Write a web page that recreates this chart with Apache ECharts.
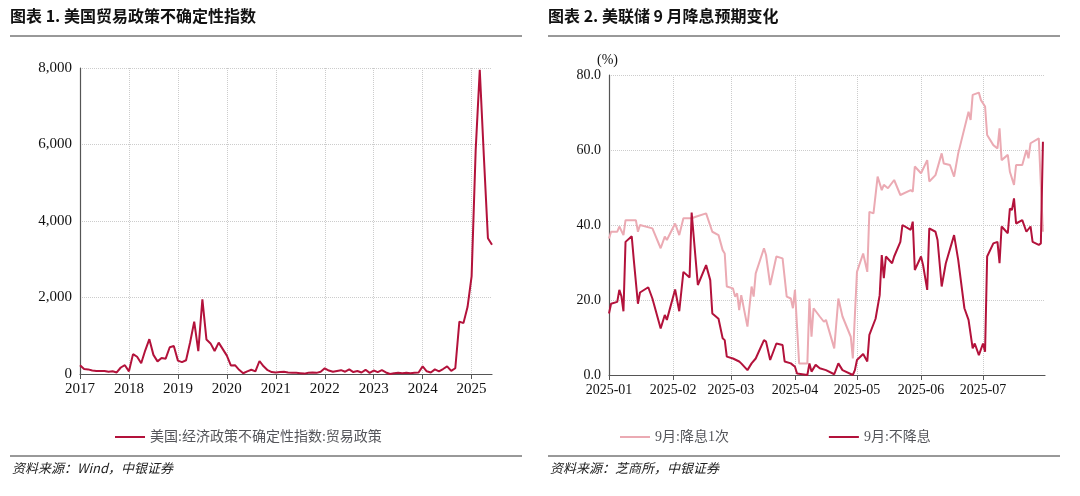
<!DOCTYPE html>
<html><head><meta charset="utf-8">
<script src="https://cdn.jsdelivr.net/npm/echarts@6/dist/echarts.min.js"></script>
<style>html,body{margin:0;background:#fff}#c{width:1080px;height:496px}</style>
</head><body><div id="c"></div>
<script>
/* 左图：贸易政策不确定性指数（月度，2017-01 ~ 2025-06） */
var tpuValues = [
  230,130,120,90,80,80,80,60,70,40,170,230,
  70,520,450,280,620,910,500,330,420,400,700,730,
  350,310,360,830,1370,600,1950,900,800,600,820,650,
  480,220,230,110,20,70,110,70,340,200,100,50,
  40,50,60,40,30,30,20,10,30,40,30,60,
  150,90,60,80,100,60,120,50,80,40,110,30,
  90,50,100,40,0,20,30,20,30,20,30,40,
  200,70,40,120,70,130,200,80,150,1370,1330,1750,
  2550,5860,7950,5700,3550,3380
]
var yearTicks = [0, 2000, 4000, 6000, 8000]

/* 右图：9月降息预期（日度，按2025-01-01起的天数） */
var cutDays = [0,1,4,5,7,8,13,14,15,21,25,27,28,32,34,36,40,42,47,50,53,55,56,57,60,61,62,63,64,67,69,70,71,75,76,78,81,84,86,88,89,90,92,96,97,98,99,102,104,105,109,111,113,117,118,120,123,125,126,128,130,132,133,135,138,141,146,147,148,151,154,155,158,161,162,165,167,169,174,175,176,179,180,182,183,186,188,189,190,193,194,196,197,200,202,203,204,208,210]
var cutVals = [36.4,38.2,38.2,39.6,37.3,41.3,41.3,38.2,40,39.1,33.8,36.9,36,40.4,37.3,41.8,41.8,42.2,43.1,38.2,37.3,33.3,32.4,23.6,23.1,20.9,21.8,17.3,21.3,12.9,23.6,20.9,27.1,33.8,32,24,31.6,31.1,20.9,20.4,17.8,22.7,3.1,3.1,20.4,10.2,17.8,15.6,14.2,14.7,7.1,20.4,15.6,10.2,4.4,27.5,32.4,27.5,43.5,43.1,52.9,49.3,50.7,49.8,52,48,49.3,48.9,55.6,53.8,57.3,51.6,53.3,59.1,56.4,56,52.9,59.1,70.2,68,74.7,75.3,73.3,71.6,64,61.3,60.4,65.8,57.3,58.7,54.2,50.7,56,56,60,57.8,61.8,63.1,38.2]
var holdDays = [0,1,4,5,6,7,8,11,12,14,15,19,21,25,27,28,32,34,36,39,40,43,47,49,50,53,55,56,57,60,63,64,67,69,71,75,76,78,81,84,85,88,90,91,96,97,98,100,102,105,109,111,113,118,119,120,123,125,126,129,131,132,133,134,137,138,141,142,146,147,148,151,152,154,155,158,159,161,163,167,169,172,174,176,177,179,181,182,183,186,188,189,190,193,194,195,196,197,200,202,204,205,208,209,210]
var holdVals = [16.4,19,19.5,22.7,21,17,35.5,37,30.7,19,22,23.4,20.4,12.4,16,14.7,22.8,17,27.5,26,43.3,24,29.3,25.3,16.4,15,9.8,9.3,4.9,4.4,3.6,3.1,1.3,3.1,4.4,9.3,8.9,4,8.4,8,3.6,3.1,2.2,0.4,0,3.1,0.9,2.7,1.8,1.3,0.2,3.1,1.3,0,1.3,4,5.6,3.6,10.7,15,21.3,32,25.8,31.6,29.8,31.6,35.5,40,38.7,40.9,28,31.6,29.3,22.7,39.1,38.2,36,23.6,29.8,37.3,30.7,17.8,14.7,7.1,8.4,5.3,8.4,6.2,31.6,35.1,35.5,29.8,39.6,37.8,44.4,44,47.1,40.4,41.3,38.2,39.6,35.5,34.7,35.1,62.2]

var months = []
for (var y = 2017; y <= 2025; y++) for (var m = 1; m <= 12; m++) {
  if (y === 2025 && m > 6) break
  months.push(y + '-' + (m < 10 ? '0' + m : m))
}
var days = []
var t0 = Date.UTC(2025, 0, 1)
for (var i = 0; i <= 211; i++) days.push(new Date(t0 + i * 86400000).toISOString().slice(0, 10))
function fill(idx, vals) {
  var a = days.map(function () { return null })
  idx.forEach(function (d, k) { a[d] = vals[k] })
  return a
}

var DARK = '#B3123B', LIGHT = '#EBAAB3'
var serif = 'Liberation Serif, Noto Sans CJK SC'
var axisLine = { lineStyle: { color: '#555', width: 1.2 } }
var dotted = { show: true, lineStyle: { color: '#ccc', type: 'dotted' } }

var chart = echarts.init(document.getElementById('c'))
chart.setOption({
  animation: false,
  textStyle: { fontFamily: serif, color: '#000' },
  graphic: [
    { type: 'text', left: 10, top: 8, style: { text: '图表 1. 美国贸易政策不确定性指数', font: 'bold 16px Noto Sans CJK SC', fill: '#111' } },
    { type: 'text', left: 548, top: 8, style: { text: '图表 2. 美联储 9 月降息预期变化', font: 'bold 16px Noto Sans CJK SC', fill: '#111' } },
    { type: 'line', shape: { x1: 10, y1: 36, x2: 522, y2: 36 }, style: { stroke: '#333', lineWidth: 1 } },
    { type: 'line', shape: { x1: 548, y1: 36, x2: 1060, y2: 36 }, style: { stroke: '#333', lineWidth: 1 } },
    { type: 'line', shape: { x1: 10, y1: 456, x2: 522, y2: 456 }, style: { stroke: '#333', lineWidth: 1 } },
    { type: 'line', shape: { x1: 548, y1: 456, x2: 1060, y2: 456 }, style: { stroke: '#333', lineWidth: 1 } },
    { type: 'text', left: 12, top: 462, style: { text: '资料来源：Wind，中银证券', font: 'italic 13px Noto Sans CJK SC', fill: '#222' } },
    { type: 'text', left: 550, top: 462, style: { text: '资料来源：芝商所，中银证券', font: 'italic 13px Noto Sans CJK SC', fill: '#222' } }
  ],
  legend: [
    { left: 110, top: 425, itemWidth: 30, itemHeight: 2, icon: 'rect', data: ['美国:经济政策不确定性指数:贸易政策'], textStyle: { fontFamily: serif, fontSize: 14 } },
    { left: 615, top: 425, itemGap: 100, itemWidth: 30, itemHeight: 2, icon: 'rect', data: ['9月:降息1次', '9月:不降息'], textStyle: { fontFamily: serif, fontSize: 14 } }
  ],
  grid: [
    { left: 80, right: 588, top: 68, bottom: 122 },
    { left: 609, right: 35, top: 75, bottom: 121 }
  ],
  xAxis: [
    {
      gridIndex: 0, type: 'category', data: months, boundaryGap: false,
      axisLine: axisLine,
      axisTick: { interval: function (i, v) { return v.slice(5) === '01' }, length: 5, lineStyle: { color: '#555' } },
      axisLabel: { interval: function (i, v) { return v.slice(5) === '01' }, formatter: function (v) { return v.slice(0, 4) }, fontSize: 15, color: '#111', fontFamily: serif },
      splitLine: { show: true, interval: function (i, v) { return v.slice(5) === '01' }, lineStyle: { color: '#ccc', type: 'dotted' } }
    },
    {
      gridIndex: 1, type: 'category', data: days, boundaryGap: false,
      axisLine: axisLine,
      axisTick: { interval: function (i, v) { return v.slice(8) === '01' }, length: 5, lineStyle: { color: '#555' } },
      axisLabel: { interval: function (i, v) { return v.slice(8) === '01' }, formatter: function (v) { return v.slice(0, 7) }, fontSize: 14, color: '#111', fontFamily: serif },
      splitLine: { show: true, interval: function (i, v) { return v.slice(8) === '01' }, lineStyle: { color: '#ccc', type: 'dotted' } }
    }
  ],
  yAxis: [
    {
      gridIndex: 0, type: 'value', min: yearTicks[0], max: yearTicks[4], interval: 2000,
      axisLine: Object.assign({ show: true }, axisLine), axisTick: { show: false },
      axisLabel: { fontSize: 15, color: '#111', fontFamily: serif, formatter: function (v) { return v.toLocaleString('en-US') } },
      splitLine: dotted
    },
    {
      gridIndex: 1, type: 'value', min: 0, max: 80, interval: 20,
      name: '(%)', nameGap: 8, nameTextStyle: { fontSize: 14, color: '#111', fontFamily: serif, align: 'left', padding: [0, 0, 0, -12] },
      axisLine: Object.assign({ show: true }, axisLine), axisTick: { show: false },
      axisLabel: { fontSize: 14, color: '#111', fontFamily: serif, formatter: function (v) { return v.toFixed(1) } },
      splitLine: dotted
    }
  ],
  series: [
    { name: '美国:经济政策不确定性指数:贸易政策', type: 'line', xAxisIndex: 0, yAxisIndex: 0, data: tpuValues, showSymbol: false, lineStyle: { color: DARK, width: 2 }, itemStyle: { color: DARK } },
    { name: '9月:降息1次', type: 'line', xAxisIndex: 1, yAxisIndex: 1, data: fill(cutDays, cutVals), connectNulls: true, showSymbol: false, lineStyle: { color: LIGHT, width: 2 }, itemStyle: { color: LIGHT } },
    { name: '9月:不降息', type: 'line', xAxisIndex: 1, yAxisIndex: 1, data: fill(holdDays, holdVals), connectNulls: true, showSymbol: false, lineStyle: { color: DARK, width: 2 }, itemStyle: { color: DARK } }
  ]
})
</script>
</body></html>
